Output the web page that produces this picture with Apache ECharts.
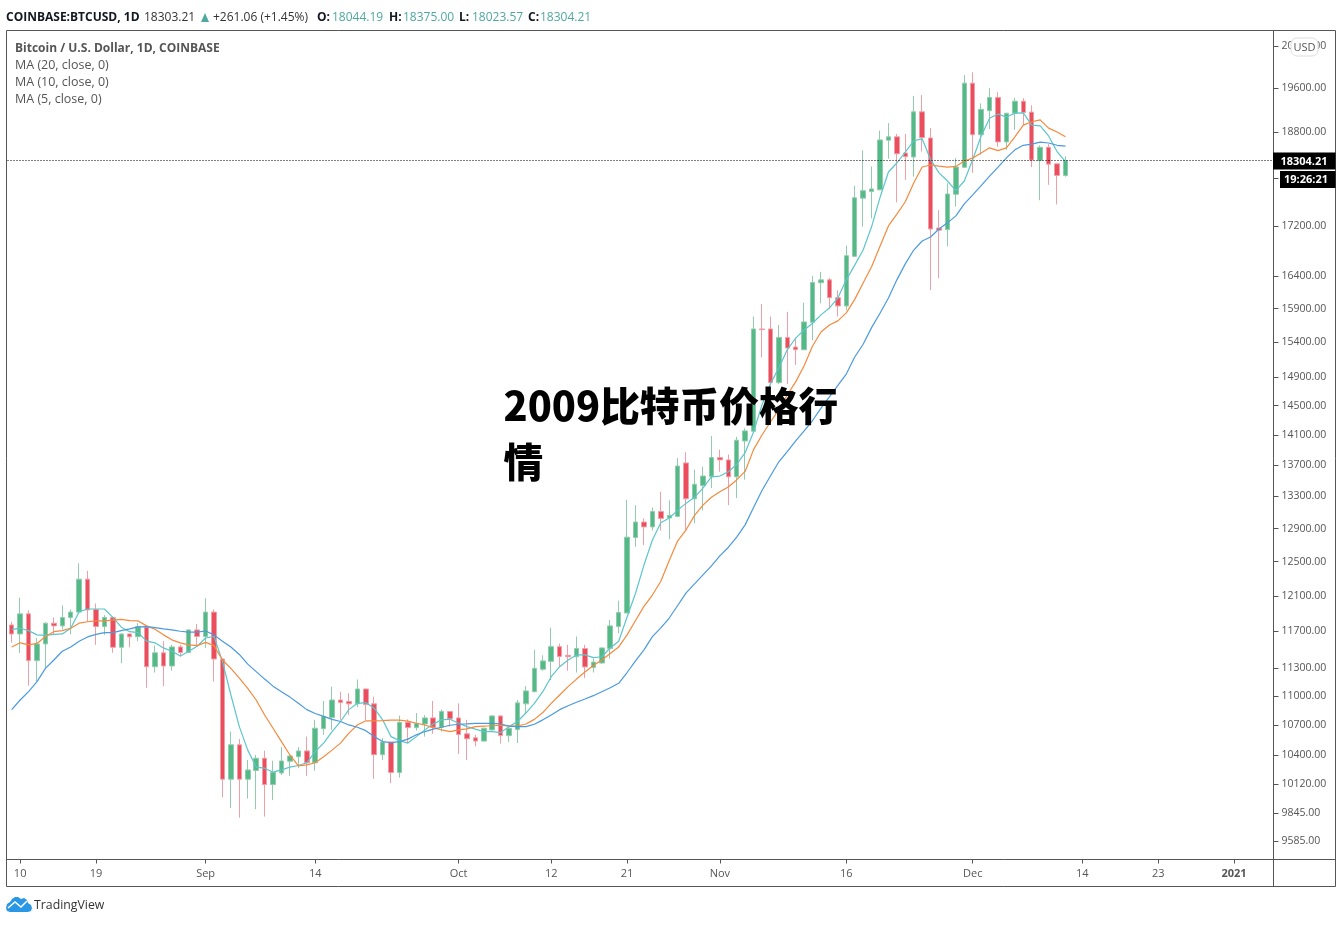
<!DOCTYPE html>
<html>
<head>
<meta charset="utf-8">
<title>BTCUSD</title>
<script src="https://cdn.jsdelivr.net/npm/echarts@6/dist/echarts.min.js"></script>
<style>
  html, body { margin: 0; padding: 0; background: #fff; }
  #main { width: 1342px; height: 936px; }
</style>
</head>
<body>
<div id="main"></div>
<script>
// values: [open, close, low, high], one row per day from 2020-08-09
var candles = [
  [11770,11670,11575,11805],[11670,11895,11460,12080],[11895,11378,11110,11935],[11378,11560,11153,11625],
  [11560,11790,11295,11800],[11790,11760,11668,11855],[11760,11855,11722,11990],[11855,11915,11668,11945],
  [11915,12294,11895,12481],[12294,11940,11806,12391],[11945,11752,11550,12013],[11752,11855,11660,11880],
  [11855,11523,11463,11865],[11523,11670,11350,11675],[11670,11638,11523,11675],[11640,11752,11590,11790],
  [11745,11312,11088,11752],[11312,11463,11250,11541],[11463,11320,11105,11590],[11320,11527,11270,11550],
  [11527,11465,11420,11550],[11465,11715,11463,11720],[11715,11642,11541,11782],[11642,11915,11516,12073],
  [11915,11395,11153,11945],[11395,10165,9990,11400],[10165,10503,9890,10636],[10503,10165,9800,10560],
  [10165,10255,9980,10352],[10250,10370,9880,10402],[10370,10113,9810,10445],[10113,10230,9965,10345],
  [10225,10343,10205,10480],[10340,10392,10197,10395],[10385,10442,10272,10480],[10442,10325,10197,10585],
  [10325,10670,10247,10755],[10665,10790,10603,10950],[10778,10960,10653,11100],[10960,10933,10755,11047],
  [10945,10920,10805,11030],[10920,11075,10885,11175],[11075,10912,10755,11080],[10920,10405,10168,10995],
  [10405,10530,10352,10570],[10530,10230,10127,10535],[10230,10730,10180,10798],[10730,10676,10520,10760],
  [10676,10720,10645,10825],[10713,10775,10585,10805],[10775,10680,10613,10950],[10680,10840,10636,10860],
  [10840,10765,10686,10845],[10775,10606,10412,10925],[10613,10563,10352,10755],[10573,10540,10487,10603],
  [10540,10670,10540,10675],[10653,10795,10645,10800],[10795,10595,10515,10800],[10595,10670,10530,10690],
  [10656,10930,10520,10960],[10920,11055,10825,11105],[11047,11295,11040,11495],[11285,11375,11270,11435],
  [11370,11530,11170,11740],[11530,11423,11305,11565],[11435,11420,11270,11550],[11420,11510,11250,11642],
  [11510,11310,11190,11550],[11305,11362,11250,11400],[11352,11516,11345,11520],[11510,11760,11400,11825],
  [11752,11910,11677,12045],[11905,12795,11905,13258],[12790,12980,12680,13190],[12980,12920,12700,13025],
  [12920,13110,12875,13160],[13110,13025,12875,13360],[13030,13063,12770,13250],[13050,13690,13040,13795],
  [13730,13270,12885,13870],[13270,13455,12965,13640],[13440,13560,13125,13680],[13555,13800,13405,14085],
  [13800,13770,13615,13905],[13770,13550,13190,13840],[13550,14030,13280,14075],[14020,14155,13515,14190],
  [14150,15595,14150,15780],[15595,15585,15180,15969],[15595,14819,14780,15780],[14819,15470,14800,15655],
  [15470,15315,14800,15850],[15330,15290,15070,15470],[15290,15700,15285,15990],[15695,16300,15430,16400],
  [16295,16340,15980,16465],[16340,16066,15895,16370],[16066,15940,15780,16180],[15940,16720,15880,16880],
  [16710,17666,16700,17870],[17660,17785,17190,18480],[17770,17815,17325,18200],[17800,18665,17795,18830],
  [18660,18720,18335,18965],[18720,18420,17590,18770],[18435,18370,17970,18770],[18365,19170,18025,19460],
  [19170,18705,18460,19480],[18700,17150,16180,18875],[17165,17130,16365,17460],[17140,17730,16870,17910],
  [17725,18190,17520,18345],[18185,19700,18180,19850],[19700,18757,18090,19905],[18757,19215,18405,19325],
  [19190,19435,18860,19605],[19435,18630,18545,19530],[18630,19145,18490,19150],[19145,19365,18845,19425],
  [19365,19160,18930,19420],[19165,18310,18190,19290],[18305,18535,17625,18570],[18535,18240,17885,18590],
  [18245,18044,17555,18250],[18044.19,18304.21,18023.57,18375]
];
var ma5 = [
  11722,11733,11707,11660,11655,11665,11670,11733,11920,11950,11950,11950,11855,11745,11695,11685,11590,11572,11516,11480,
  11427,11480,11535,11625,11642,11370,11012,10686,10450,10283,10272,10233,10255,10283,10298,10325,10435,10520,10636,10738,
  10860,10925,10933,10875,10755,10585,10545,10520,10585,10653,10713,10755,10762,10720,10686,10660,10636,10636,10626,10686,
  10738,10825,10925,11047,11205,11312,11385,11440,11440,11410,11420,11516,11590,11860,12130,12460,12760,12970,13030,13125,
  13215,13290,13405,13550,13560,13615,13710,13865,14140,14510,14800,15030,15290,15460,15580,15680,15805,15910,16060,16340,
  16570,16810,17185,17670,18105,18260,18450,18650,18685,18320,18090,17950,17785,17950,18320,18735,19055,19130,19075,19145,
  19150,18930,18915,18735,18460,18285
];
var ma10 = [
  11527,11572,11550,11565,11642,11695,11707,11733,11790,11806,11815,11815,11825,11833,11818,11815,11760,11722,11660,11605,
  11572,11550,11541,11577,11541,11385,11295,11190,11082,10960,10805,10670,10535,10402,10295,10305,10325,10385,10450,10520,
  10620,10703,10745,10745,10748,10752,10752,10742,10720,10703,10676,10653,10636,10653,10663,10686,10692,10695,10700,10692,
  10692,10713,10760,10830,10925,11012,11100,11180,11255,11325,11385,11455,11527,11660,11820,11980,12110,12270,12515,12750,
  12885,13063,13190,13290,13360,13420,13510,13620,13905,14100,14275,14440,14650,14830,15060,15345,15550,15655,15715,15835,
  16040,16290,16545,16870,17200,17395,17600,17915,18190,18225,18205,18190,18200,18295,18345,18435,18525,18475,18525,18720,
  18930,18990,19025,18875,18805,18720
];
var ma20 = [
  10860,10960,11047,11153,11295,11385,11480,11527,11590,11637,11665,11685,11685,11707,11726,11748,11752,11740,11726,11715,
  11700,11690,11690,11703,11660,11590,11527,11445,11340,11260,11180,11105,11047,10990,10925,10860,10820,10790,10760,10738,
  10703,10680,10645,10585,10535,10525,10535,10560,10603,10636,10660,10680,10700,10710,10713,10720,10720,10720,10713,10692,
  10686,10686,10710,10755,10805,10860,10900,10937,10970,11005,11047,11088,11135,11250,11375,11495,11640,11737,11848,11990,
  12135,12240,12345,12450,12570,12670,12795,12945,13160,13375,13560,13745,13880,14020,14155,14295,14465,14620,14780,14940,
  15185,15370,15615,15830,16060,16340,16590,16810,16955,17020,17150,17250,17365,17565,17715,17870,18035,18190,18350,18490,
  18570,18590,18625,18610,18570,18555
];
var priceTicks = [9585,9845,10120,10400,10700,11000,11300,11700,12100,12500,12900,13300,13700,14100,14500,14900,15400,15900,16400,17200,18000,18800,19600,20400];
var timeTicks = {
  '2020-08-10':'10','2020-08-19':'19','2020-09-01':'Sep','2020-09-14':'14','2020-10-01':'Oct','2020-10-12':'12',
  '2020-10-21':'21','2020-11-01':'Nov','2020-11-16':'16','2020-12-01':'Dec','2020-12-14':'14','2020-12-23':'23','2021-01-01':'2021'
};
var lastClose = 18304.21;

// 150 daily slots, the axis runs on past the last candle
var days = [];
for (var d = 0; d < 150; d++) {
  days.push(new Date(Date.UTC(2020, 7, 9 + d)).toISOString().slice(0, 10));
}

var upColor = '#53b987', downColor = '#eb4d5c';
var axisColor = '#555';
var uiFont = '"Open Sans", sans-serif';

var myChart = echarts.init(document.getElementById('main'));

function isTimeTick(index, value) {
  return timeTicks[value] !== undefined;
}
function maLine(name, data, color) {
  return {
    name: name, type: 'line', data: data, symbol: 'none', silent: true, z: 3,
    lineStyle: { color: color, width: 1.2 }
  };
}

myChart.setOption({
  animation: false,
  backgroundColor: '#fff',
  grid: { left: 7.5, top: 30.5, width: 1264.5, height: 829, show: false },
  xAxis: {
    type: 'category',
    data: days,
    boundaryGap: true,
    axisLine: { show: false },
    splitLine: { show: false },
    axisTick: { show: true, alignWithLabel: true, interval: isTimeTick, length: 4, lineStyle: { color: axisColor } },
    axisLabel: {
      interval: isTimeTick, margin: 9, color: axisColor, fontFamily: uiFont, fontSize: 11,
      formatter: function(value) {
        var t = timeTicks[value] || '';
        return t === '2021' ? '{year|' + t + '}' : t;
      },
      rich: { year: { fontWeight: 'bold', color: axisColor, fontFamily: uiFont, fontSize: 11 } }
    }
  },
  yAxis: {
    type: 'log',
    logBase: 10,
    position: 'right',
    offset: 1.5,
    min: 9418,
    max: 20711,
    scale: true,
    axisLine: { show: false },
    splitLine: { show: false },
    minorTick: { show: false },
    axisTick: { show: true, length: 5, customValues: priceTicks, lineStyle: { color: axisColor } },
    axisLabel: {
      margin: 8, color: axisColor, fontFamily: uiFont, fontSize: 10.5,
      padding: [2, 0, 0, 0],
      customValues: priceTicks,
      formatter: function(v) { return Number(v).toFixed(2); }
    }
  },
  series: [
    {
      name: 'BTCUSD', type: 'candlestick', data: candles, barWidth: 5, silent: true, z: 2,
      itemStyle: { color: upColor, color0: downColor, borderColor: '#93cbae', borderColor0: '#ee9fa7', borderWidth: 1 },
      markLine: {
        silent: true, symbol: 'none', animation: false,
        label: { show: false },
        lineStyle: { color: '#000', type: [1, 2], width: 1 },
        data: [{ yAxis: lastClose }]
      }
    },
    maLine('MA (5, close, 0)', ma5, '#5cc6ca'),
    maLine('MA (10, close, 0)', ma10, '#f58a3e'),
    maLine('MA (20, close, 0)', ma20, '#4b9ae0')
  ]
});

function label(text, x, y, font, fill, align) {
  return { type: 'text', z: 20, silent: true, style: { text: text, x: x, y: y, font: font, fill: fill, align: align || 'left', verticalAlign: 'middle' } };
}

var boldFont = 'bold 12px "Open Sans", sans-serif';
var normFont = '12px "Open Sans", sans-serif';
var legendFont = '12.5px "Open Sans", sans-serif';
var teal = '#4fa8a0';
var tagY = myChart.convertToPixel({ yAxisIndex: 0 }, lastClose);

myChart.setOption({
  graphic: [
    // outer frame and plot edges
    { type: 'rect', silent: true, z: 1, shape: { x: 6.5, y: 30.5, width: 1329, height: 856 }, style: { fill: 'none', stroke: axisColor, lineWidth: 1 } },
    { type: 'line', silent: true, z: 1, shape: { x1: 1273.5, y1: 30.5, x2: 1273.5, y2: 886.5 }, style: { stroke: axisColor, lineWidth: 1 } },
    { type: 'line', silent: true, z: 1, shape: { x1: 6.5, y1: 859.5, x2: 1335.5, y2: 859.5 }, style: { stroke: axisColor, lineWidth: 1 } },
    // header
    label('COINBASE:BTCUSD, 1D', 6, 18, boldFont, '#131722'),
    label('18303.21', 144, 18, normFont, '#333'),
    { type: 'polygon', silent: true, z: 20, shape: { points: [[201, 22], [209, 22], [205, 13]] }, style: { fill: teal } },
    label('+261.06 (+1.45%)', 213, 18, normFont, '#333'),
    label('O:', 317, 18, boldFont, '#131722'),
    label('18044.19', 332, 18, normFont, teal),
    label('H:', 389, 18, boldFont, '#131722'),
    label('18375.00', 403, 18, normFont, teal),
    label('L:', 459, 18, boldFont, '#131722'),
    label('18023.57', 472, 18, normFont, teal),
    label('C:', 528, 18, boldFont, '#131722'),
    label('18304.21', 540, 18, normFont, teal),
    // study legend
    label('Bitcoin / U.S. Dollar, 1D, COINBASE', 15, 48.5, 'bold 12px "Open Sans", sans-serif', axisColor),
    label('MA (20, close, 0)', 15, 65.5, legendFont, axisColor),
    label('MA (10, close, 0)', 15, 82.5, legendFont, axisColor),
    label('MA (5, close, 0)', 15, 99.5, legendFont, axisColor),
    // currency pill
    { type: 'rect', silent: true, z: 20, shape: { x: 1291, y: 38, width: 27, height: 18, r: 6 }, style: { fill: '#fff', stroke: '#ddd', lineWidth: 1 } },
    label('USD', 1304.5, 47.5, '11px "Open Sans", sans-serif', axisColor, 'center'),
    // price tag and countdown
    { type: 'rect', silent: true, z: 20, shape: { x: 1273, y: tagY - 8, width: 62.5, height: 17 }, style: { fill: '#000' } },
    label('18304.21', 1304, tagY + 1, 'bold 11px "Open Sans", sans-serif', '#fff', 'center'),
    { type: 'rect', silent: true, z: 20, shape: { x: 1280, y: tagY + 10.5, width: 55.5, height: 17 }, style: { fill: '#000' } },
    label('19:26:21', 1306, tagY + 19.5, 'bold 11px "Open Sans", sans-serif', '#fff', 'center'),
    // overlaid headline
    label('2009比特币价格行', 503.5, 406, '900 39.7px "Noto Sans CJK SC", sans-serif', '#000'),
    label('情', 503.5, 462, '900 39.7px "Noto Sans CJK SC", sans-serif', '#000'),
    // TradingView mark
    {
      type: 'polygon', silent: true, z: 20,
      shape: { points: [[6, 908], [7, 904], [10, 902], [12, 899], [15, 897], [18, 897], [21, 899], [24, 898], [27, 900], [28, 903], [31, 905], [32, 908], [31, 911], [28, 912], [10, 912], [7, 911]] },
      style: { fill: '#2a96e6' }
    },
    { type: 'polyline', silent: true, z: 21, shape: { points: [[8, 908], [15, 902], [21, 907], [27, 901]] }, style: { fill: 'none', stroke: '#fff', lineWidth: 1.5 } },
    label('TradingView', 34, 905.5, '12.3px "Open Sans", sans-serif', '#333')
  ]
});
</script>
</body>
</html>
